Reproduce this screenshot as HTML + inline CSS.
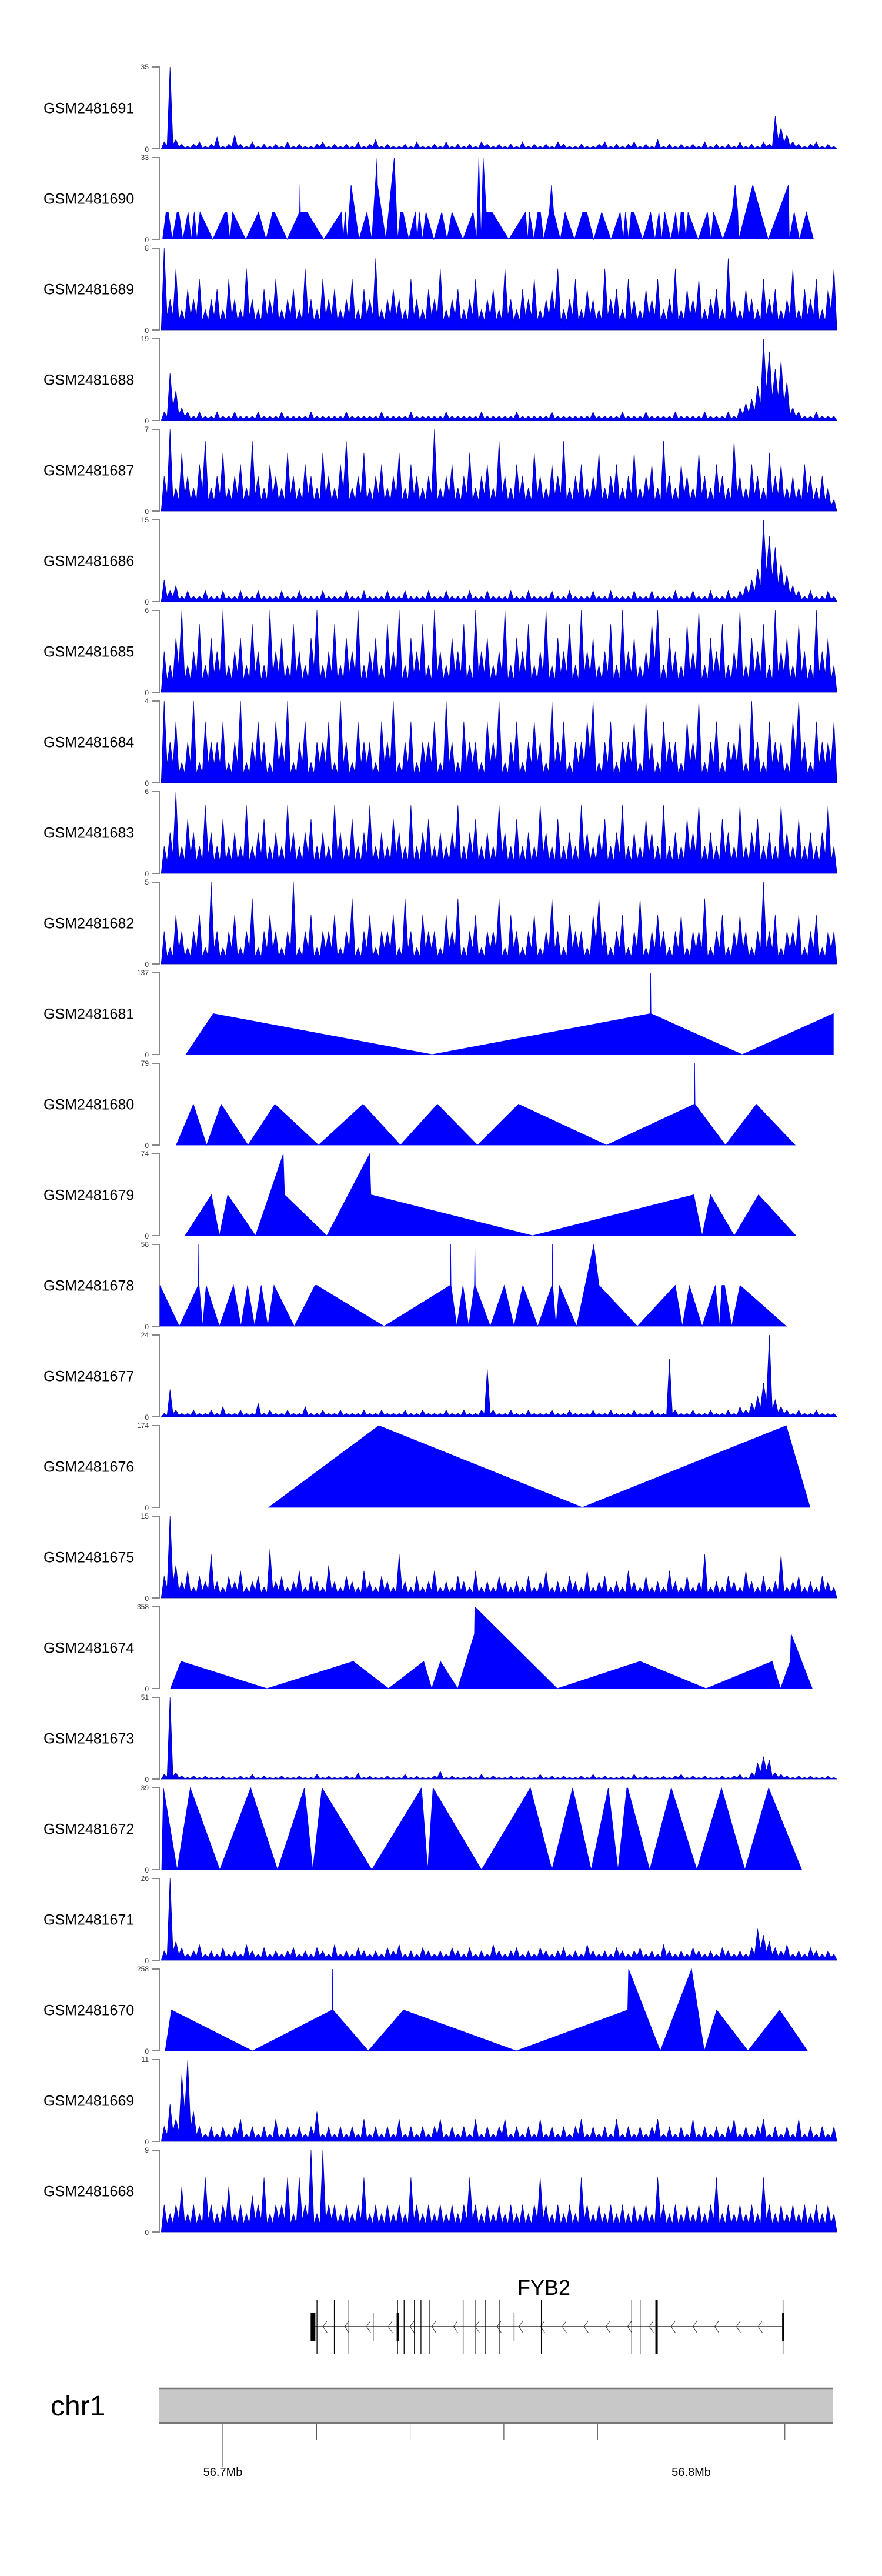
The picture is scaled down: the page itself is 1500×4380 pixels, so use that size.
<!DOCTYPE html>
<html><head><meta charset="utf-8"><style>
html,body{margin:0;padding:0;background:#fff;}
svg{display:block;font-family:"Liberation Sans",sans-serif;}
</style></head><body>
<svg id="c" width="1500" height="4380" viewBox="0 0 1500 4380" xmlns="http://www.w3.org/2000/svg"></svg>
<script>
const sampleNames=["GSM2481691","GSM2481690","GSM2481689","GSM2481688","GSM2481687","GSM2481686","GSM2481685","GSM2481684","GSM2481683","GSM2481682","GSM2481681","GSM2481680","GSM2481679","GSM2481678","GSM2481677","GSM2481676","GSM2481675","GSM2481674","GSM2481673","GSM2481672","GSM2481671","GSM2481670","GSM2481669","GSM2481668"];
const yMaxLabels=[35,33,8,19,7,15,6,4,6,5,137,79,74,58,24,174,15,358,51,39,26,258,11,9];
// dense coverage tracks (values per equal-width bin)
const v1691=[3,35,4,2,1,2,3,1,2,5,1,2,6,2,1,3,1,2,1,2,1,3,1,2,1,1,2,3,1,2,1,2,1,3,1,2,4,1,2,1,1,2,1,3,1,1,2,1,3,1,2,1,2,1,3,2,1,2,1,2,1,3,1,2,1,2,1,3,2,1,1,2,1,1,2,3,1,2,1,2,3,1,2,1,4,1,2,1,2,1,2,1,3,1,2,1,2,1,3,1,2,1,3,2,14,9,6,3,2,1,2,3,1,2,1];
const v1689=[8,3,6,2,4,3,5,2,3,4,2,5,3,2,6,3,2,4,3,5,2,3,4,2,6,3,2,5,3,4,2,3,5,2,4,3,7,2,3,4,3,2,5,3,2,4,3,6,2,3,4,2,3,5,2,3,4,2,6,3,2,4,3,5,2,3,4,6,2,3,5,2,4,3,2,6,3,4,2,5,3,2,4,3,5,2,3,6,2,4,3,5,2,3,4,2,7,3,2,4,3,2,5,3,4,2,3,6,2,4,3,5,2,4,6];
const v1688=[2,11,7,3,2,1,2,1,1,2,1,1,2,1,1,1,2,1,1,1,2,1,1,1,1,2,1,1,1,1,1,2,1,1,1,1,1,2,1,1,1,1,2,1,1,1,1,1,2,1,1,1,1,1,2,1,1,1,1,1,2,1,1,1,1,1,2,1,1,1,1,1,1,2,1,1,1,1,2,1,1,1,2,1,1,1,1,2,1,1,1,1,2,1,1,1,2,1,3,4,5,8,19,16,12,14,9,3,2,1,1,2,1,1,1];
const v1687=[3,7,2,5,3,2,4,6,2,3,5,2,3,4,2,6,3,2,4,3,2,5,3,2,4,3,2,5,3,2,4,6,2,3,5,2,3,4,2,3,5,2,4,3,2,3,7,2,3,4,2,3,5,2,3,4,2,6,3,2,4,3,2,5,3,2,4,3,6,2,3,4,2,3,5,2,3,4,2,3,5,2,3,4,2,6,3,2,4,3,2,5,3,2,4,3,2,6,3,2,4,3,2,5,3,4,2,3,2,4,3,2,3,2,1];
const v1686=[4,2,3,1,2,1,1,2,1,1,2,1,1,2,1,1,2,1,1,1,2,1,1,2,1,1,1,2,1,1,1,2,1,1,2,1,1,1,2,1,1,2,1,1,1,2,1,1,2,1,1,1,2,1,1,2,1,1,1,2,1,1,2,1,1,1,2,1,1,2,1,1,1,2,1,1,2,1,1,1,2,1,1,2,1,1,1,2,1,1,2,1,1,2,1,1,2,1,2,3,4,6,15,12,10,7,5,3,2,1,2,1,1,2,1];
const v1685=[3,2,4,6,2,3,5,2,4,3,6,2,3,4,2,5,3,2,6,3,4,2,5,3,2,4,6,2,3,5,2,4,3,6,2,3,4,2,5,3,6,2,4,3,5,2,6,3,2,4,3,5,2,6,3,4,2,3,6,2,4,3,5,2,3,6,2,4,3,5,2,6,3,4,2,3,5,2,6,3,4,2,3,5,6,2,4,3,2,5,3,6,2,4,3,5,2,3,6,2,4,3,5,2,6,3,4,2,5,3,2,6,3,4,2];
const v1684=[4,2,3,1,2,4,1,3,2,2,3,1,2,4,1,2,3,2,1,3,2,4,1,2,3,1,2,2,3,1,4,2,1,3,2,2,1,3,2,4,1,2,3,1,2,2,3,1,4,2,1,3,2,2,1,3,2,4,1,2,3,1,2,3,2,1,4,2,3,1,2,2,3,4,1,2,3,1,2,2,3,1,4,2,1,3,2,2,1,3,2,4,1,2,3,1,2,2,3,1,4,2,1,3,2,2,1,3,4,2,1,3,2,2,3];
const v1683=[2,3,6,2,4,3,2,5,3,2,4,2,3,2,5,2,3,4,2,3,2,5,3,2,3,4,2,3,2,5,3,2,4,2,3,5,2,3,2,4,3,2,5,2,3,4,2,3,2,3,5,2,3,4,2,3,2,5,3,2,4,2,3,2,5,3,2,4,2,3,2,5,3,2,3,4,2,3,5,2,3,2,4,3,2,5,2,3,2,4,3,5,2,3,2,4,3,2,5,2,3,4,2,3,2,5,3,2,4,2,3,2,3,5,2];
const v1682=[2,1,3,2,1,2,3,1,5,2,1,2,3,1,2,4,1,2,3,2,1,2,5,1,2,3,1,2,2,3,1,2,4,1,2,3,1,2,2,3,1,4,2,1,3,2,2,1,3,2,4,1,2,3,1,2,2,4,1,3,2,1,2,3,1,2,4,2,1,3,2,2,1,3,4,2,1,2,3,1,2,4,1,2,3,2,1,2,3,1,2,2,4,1,2,3,1,2,3,2,1,2,5,2,3,1,2,2,3,1,2,3,1,2,2];
const v1677=[1,8,2,1,1,2,1,1,2,1,3,1,1,2,1,1,4,1,2,1,1,2,1,1,3,1,1,2,1,1,2,1,1,1,2,1,1,2,1,1,1,2,1,1,2,1,1,1,2,1,1,2,1,1,2,14,2,1,1,2,1,1,2,1,1,1,2,1,1,2,1,1,1,2,1,1,2,1,1,1,2,1,1,2,1,1,17,2,1,1,2,1,1,2,1,1,2,1,3,2,4,6,10,24,5,3,2,1,2,1,1,2,1,1,1];
const v1675=[4,15,6,3,5,2,4,3,8,3,2,4,3,5,2,3,4,2,9,3,4,2,3,5,2,4,3,2,6,3,2,4,3,2,5,3,2,4,3,2,8,3,2,4,2,3,5,2,3,2,4,3,2,5,2,3,2,4,3,2,3,2,4,2,3,5,2,3,2,4,3,2,5,2,3,4,2,3,2,5,3,2,4,2,3,2,5,3,2,4,2,3,8,2,3,2,4,3,2,5,3,2,4,2,3,8,2,3,4,2,3,2,4,3,2];
const v1673=[3,51,4,2,1,2,1,2,1,1,2,1,1,2,1,3,1,2,1,1,2,1,1,2,1,1,3,1,2,1,1,2,1,4,1,2,1,1,2,1,1,3,1,2,1,1,2,5,1,2,1,1,2,1,3,1,2,1,1,2,1,2,1,1,3,1,2,1,2,1,1,2,1,3,1,2,1,1,2,1,3,1,2,1,1,2,1,2,3,1,2,1,2,1,1,2,1,2,3,1,4,10,14,12,4,3,2,1,2,1,2,1,1,2,1];
const v1671=[3,26,6,4,2,3,5,2,3,2,4,2,3,2,5,3,2,4,2,3,2,3,4,2,3,2,4,3,2,5,2,3,2,4,3,2,3,2,4,3,5,2,3,2,4,3,2,3,2,4,3,2,4,2,3,2,5,3,2,3,4,2,3,2,4,3,2,3,4,2,3,2,5,3,2,3,2,4,3,2,3,4,2,3,2,5,3,2,3,2,4,3,2,3,2,4,3,2,3,2,4,10,8,6,4,3,5,2,3,2,4,3,2,3,2];
const v1669=[2,5,3,9,11,4,2,1,2,1,2,1,2,3,1,2,1,2,1,3,1,2,1,2,1,2,4,1,2,1,2,1,2,1,3,1,2,1,2,1,3,1,2,1,2,1,2,3,1,2,1,2,1,3,1,2,1,2,3,1,2,1,2,1,3,1,2,1,2,1,2,3,1,2,1,2,1,3,1,2,1,2,1,2,3,1,2,1,2,1,3,1,2,1,2,1,2,3,1,2,1,2,3,1,2,1,2,1,3,1,2,1,2,1,2];
const v1668=[3,2,3,5,2,3,2,6,3,2,3,5,2,3,2,4,3,6,2,3,3,6,2,6,3,9,2,9,3,3,2,3,2,3,6,2,3,2,3,2,3,2,6,3,2,3,2,3,2,3,2,3,6,3,2,3,2,3,2,3,2,3,2,3,6,3,2,3,2,3,2,6,3,2,3,2,3,2,3,2,3,2,3,2,6,3,2,3,2,3,2,3,2,3,6,2,3,2,3,2,3,2,6,3,2,3,2,3,2,3,2,3,2,3,2];
// sparse tracks: positions (in ~94bp bins from region start) and values
const p1690=[22,30,35,44,55,59,68,80,87,94,100,107,136,164,168,175,181,211,240,257,272,276,305,333,334,335,346,350,388,428,432,437,441,450,468,486,497,509,510,529,548,556,562,568,581,596,600,605,612,620,638,656,668,679,704,727,735,740,745,750,757,770,808,846,851,855,865,874,880,887,900,905,910,925,936,957,976,985,1001,1019,1040,1061,1068,1073,1080,1086,1092,1112,1130,1140,1149,1155,1162,1176,1187,1194,1199,1205,1210,1215,1238,1259,1267,1273,1294,1315,1322,1328,1330,1362,1397,1420,1443,1444,1445,1456,1468,1484,1500,1523];
const v1690=[0,11,11,0,11,11,0,11,0,11,0,11,0,11,11,0,11,0,11,0,11,11,0,11,22,11,11,11,0,11,0,11,0,22,0,11,0,33,22,0,33,0,11,11,0,11,0,11,0,11,0,11,0,11,0,11,0,33,0,33,11,11,0,11,0,11,0,11,11,0,11,22,11,0,11,0,11,11,0,11,0,11,0,11,0,11,11,0,11,0,11,0,11,0,11,0,11,11,0,11,0,11,0,11,0,11,22,11,0,22,0,11,22,11,0,11,0,11,0];
const p1681=[75,137,634,1129,1130,1131,1338,1545];
const v1681=[0,68.5,0,68.5,137,68.5,0,68.5];
const p1680=[53,92,122,155,216,277,376,477,562,646,737,830,1030,1229,1230,1231,1300,1370,1458];
const v1680=[0,39.5,0,39.5,0,39.5,0,39.5,0,39.5,0,39.5,0,39.5,79,39.5,0,39.5,0];
const p1679=[73,133,151,170,233,296,299,395,492,495,862,1228,1247,1266,1320,1375,1460];
const v1679=[0,37,0,37,0,74,37,0,74,37,0,37,0,37,0,37,0];
const p1678=[16,60,103,104,105,113,121,151,183,200,215,231,246,261,275,321,368,372,525,675,676,677,690,704,717,730,731,732,766,798,820,840,874,906,907,908,915,923,962,1001,1013,1100,1186,1202,1218,1247,1277,1286,1292,1298,1314,1333,1438];
const v1678=[29,0,29,58,29,0,29,0,29,0,29,0,29,0,29,0,29,29,0,29,58,29,0,29,0,29,58,29,0,29,0,29,0,29,58,29,0,29,0,58,29,0,29,0,29,0,29,0,29,29,0,29,0];
const p1676=[263,513,975,1438,1492];
const v1676=[0,174,0,174,0];
const p1674=[40,64,259,455,535,615,633,653,692,730,731,918,1106,1256,1406,1425,1447,1449,1497];
const v1674=[0,119,0,119,0,119,0,119,0,239,358,0,119,0,119,0,119,239,0];
const p1672=[20,24,55,85,152,222,283,344,363,384,497,610,624,636,746,857,906,953,995,1034,1056,1076,1078,1128,1177,1235,1291,1344,1398,1473];
const v1672=[0,39,0,39,0,39,0,39,0,39,0,39,0,39,0,39,0,39,0,39,0,39,39,0,39,0,39,0,39,0];
const p1670=[28,42,226,407,408,409,489,569,825,1078,1080,1152,1223,1252,1280,1351,1423,1486];
const v1670=[0,129,0,129,258,129,0,129,0,129,258,0,258,0,129,0,129,0];
// gene model (Mb)
const geneStartMb=56.7190, geneEndMb=56.8196;
const exonTallMb=[56.7201,56.7238,56.7267,56.7373,56.7387,56.7409,56.7423,56.7442,56.7513,56.7540,56.7560,56.7590,56.7680,56.7873,56.7891,56.8196];
const exonShortMb=[56.7321,56.7622];
const exonThickMb=[56.7926];
const axisTicksMb=[56.70,56.72,56.74,56.76,56.78,56.80,56.82];
const axisLabelsMb=[56.7,56.8];

const dense={"GSM2481691":v1691,"GSM2481689":v1689,"GSM2481688":v1688,"GSM2481687":v1687,"GSM2481686":v1686,"GSM2481685":v1685,"GSM2481684":v1684,"GSM2481683":v1683,"GSM2481682":v1682,"GSM2481677":v1677,"GSM2481675":v1675,"GSM2481673":v1673,"GSM2481671":v1671,"GSM2481669":v1669,"GSM2481668":v1668};
const sparse={"GSM2481690":[p1690,v1690],"GSM2481681":[p1681,v1681],"GSM2481680":[p1680,v1680],"GSM2481679":[p1679,v1679],"GSM2481678":[p1678,v1678],"GSM2481676":[p1676,v1676],"GSM2481674":[p1674,v1674],"GSM2481672":[p1672,v1672],"GSM2481670":[p1670,v1670]};

const NS="http://www.w3.org/2000/svg";
const svg=document.getElementById('c');
function mk(tag,attrs,parent){const e=document.createElementNS(NS,tag);for(const k in attrs)e.setAttribute(k,attrs[k]);(parent||svg).appendChild(e);return e;}
const TOP0=114, PITCH=154, TH=139;
function xBin(b){return 260+b/1.335;}
function xMb(m){return 379+(m-56.70)*7965;}
const denseStartBin=19, denseEndBin=1553;

sampleNames.forEach((name,i)=>{
  const top=TOP0+PITCH*i, bot=top+TH, ymax=yMaxLabels[i];
  const yS=v=>bot-v/ymax*TH;
  const g=mk('g',{});
  
  
  const lab=mk('text',{x:74,y:(top+bot)/2+9,'font-size':25,fill:'#000'},g);
  lab.textContent=name;
  
  
  const ax=mk('path',{d:`M259 ${top}H271V${bot}H259`,fill:'none',stroke:'#888','stroke-width':2},g);
  
  
  const t1=mk('text',{x:253,y:top+4,'font-size':12,'text-anchor':'end',fill:'#333'},g);
  t1.textContent=ymax;
  
  
  const t0=mk('text',{x:253,y:bot+5,'font-size':12,'text-anchor':'end',fill:'#333'},g);
  t0.textContent='0';
  
  
  let d='';
  if(dense[name]){
    const vals=dense[name], n=vals.length;
    const x0=xBin(denseStartBin), x1=xBin(denseEndBin), w=(x1-x0)/n;
    d=`M${x0} ${bot}`;
    for(let j=0;j<n;j++){
      const xc=x0+(j+0.5)*w;
      d+=`L${xc} ${yS(vals[j])}`;
      const nxt=j<n-1?vals[j+1]:0;
      d+=`L${x0+(j+1)*w} ${yS(Math.min(vals[j],nxt)*0.45)}`;
    }
    d+=`L${x1} ${bot}Z`;
    const p=mk('path',{d:d,fill:'#0000ff',stroke:'#0000a0','stroke-width':0.7,'stroke-linejoin':'miter'},g);
    
    
  } else {
    const [pos,vals]=sparse[name];
    d=`M${xBin(pos[0])} ${bot}`;
    for(let j=0;j<pos.length;j++) d+=`L${xBin(pos[j])} ${yS(vals[j])}`;
    d+=`L${xBin(pos[pos.length-1])} ${bot}Z`;
    const p=mk('path',{d:d,fill:'#0000ff',stroke:'#0000ff','stroke-width':0.8},g);
    
    
  }
});

// gene track
const gg=mk('g',{});


const gl=mk('text',{x:925,y:3902,'font-size':36,'text-anchor':'middle',fill:'#000'},gg);
gl.textContent='FYB2';


const gline=mk('line',{x1:xMb(geneStartMb),x2:xMb(geneEndMb),y1:3956,y2:3956,stroke:'#333','stroke-width':1.5},gg);


for(let x=xMb(geneStartMb)+22;x<xMb(geneEndMb)-5;x+=37){
  const c=mk('path',{d:`M${x+4} 3946L${x-3} 3956L${x+4} 3966`,fill:'none',stroke:'#333','stroke-width':1},gg);
  
  
}
const ex0=mk('rect',{x:xMb(geneStartMb)-2,y:3933,width:8,height:47,fill:'#000'},gg);


exonTallMb.forEach((m,j)=>{
  const e=mk('line',{x1:xMb(m),x2:xMb(m),y1:3910,y2:4003,stroke:'#000','stroke-width':1.3},gg);
  
  
  if(j===3||j===15){const r=mk('rect',{x:xMb(m)-1.5,y:3933,width:3.5,height:47,fill:'#000'},gg);
    
    }
});
exonThickMb.forEach(m=>{
  const e=mk('line',{x1:xMb(m),x2:xMb(m),y1:3910,y2:4003,stroke:'#000','stroke-width':4},gg);
  
  
});
exonShortMb.forEach(m=>{
  const e=mk('line',{x1:xMb(m),x2:xMb(m),y1:3933,y2:3980,stroke:'#000','stroke-width':1.3},gg);
  
  
});

// chromosome axis
const cg=mk('g',{});


const cl=mk('text',{x:86,y:4107,'font-size':48,fill:'#000'},cg);
cl.textContent='chr1';


const cb=mk('rect',{x:270,y:4061,width:1147,height:59,fill:'#c8c8c8'},cg);


mk('line',{x1:270,x2:1417,y1:4061,y2:4061,stroke:'#777','stroke-width':2.5},cg);
mk('line',{x1:270,x2:1417,y1:4120,y2:4120,stroke:'#777','stroke-width':2.5},cg);
axisTicksMb.forEach(m=>{
  const major=axisLabelsMb.some(l=>Math.abs(l-m)<1e-6);
  const t=mk('line',{x1:xMb(m),x2:xMb(m),y1:4121,y2:major?4194:4149,stroke:'#333','stroke-width':1},cg);
  
  
});
axisLabelsMb.forEach(m=>{
  const t=mk('text',{x:xMb(m),y:4210,'font-size':20,'text-anchor':'middle',fill:'#000'},cg);
  t.textContent=m.toFixed(1)+'Mb';
  
  
});
</script>
</body></html>
